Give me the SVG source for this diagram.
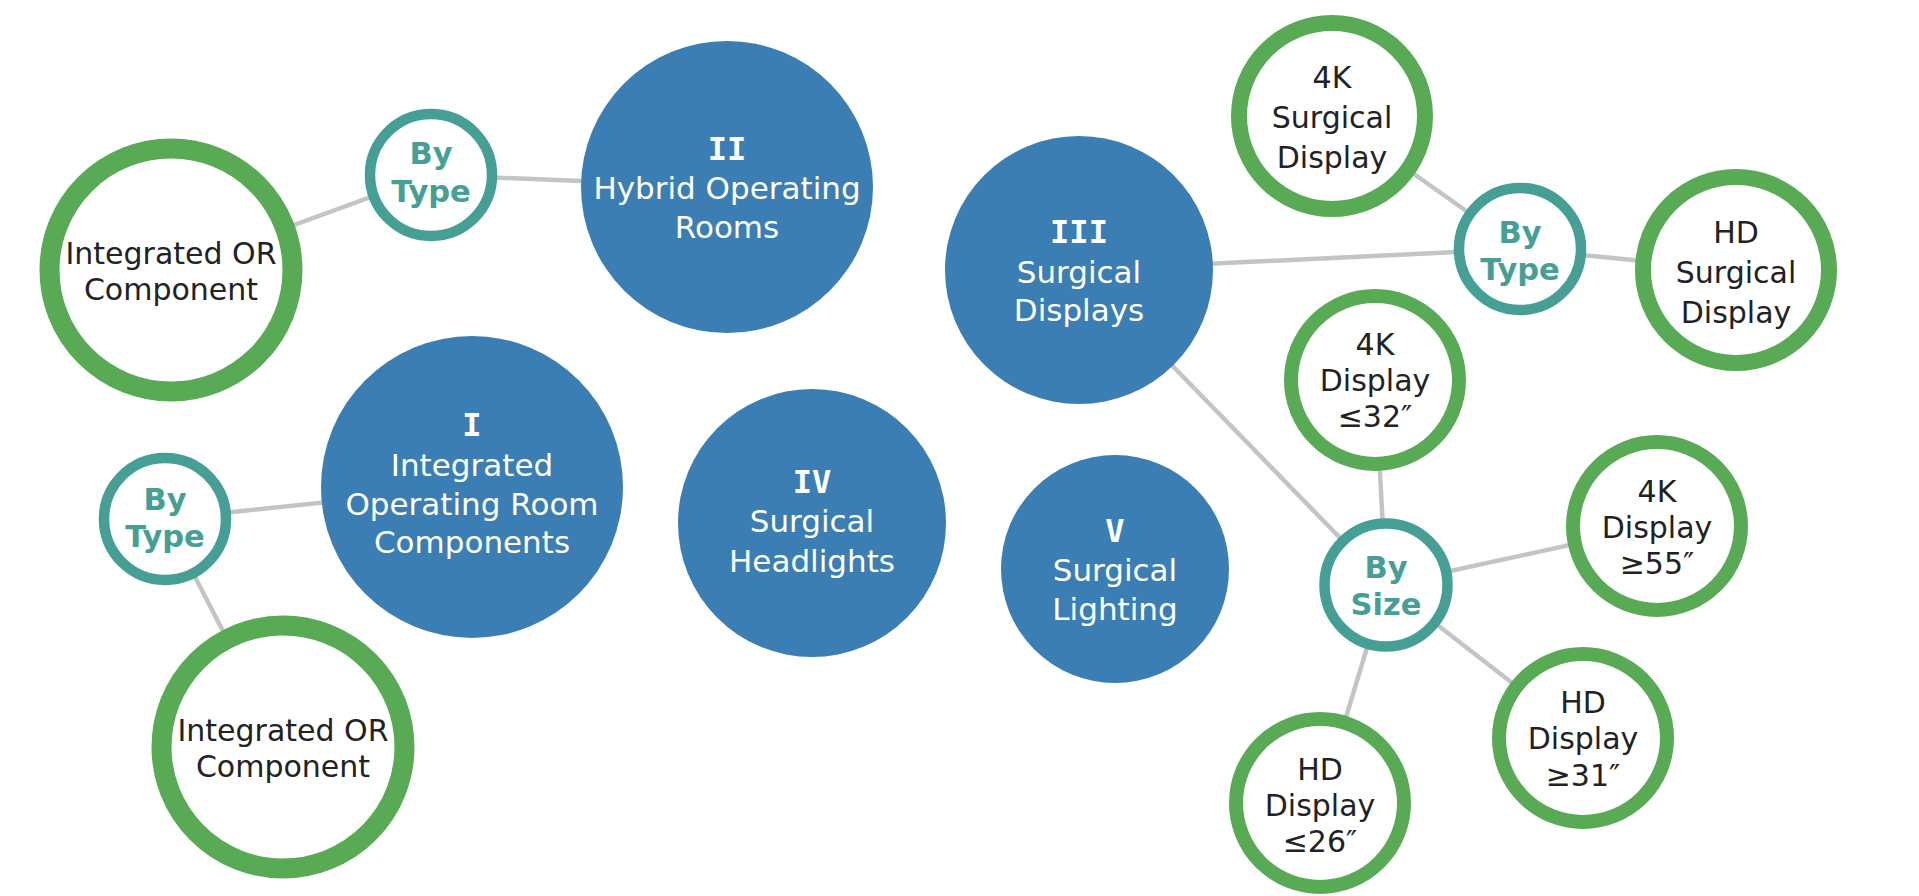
<svg xmlns="http://www.w3.org/2000/svg" width="1919" height="896" viewBox="0 0 1919 896">
<style>
.bg{fill:#ffffff}
.edge{stroke:#c4c4c4;stroke-width:4.5;fill:none}
.blue{fill:#3a7eb4}
.green{fill:#ffffff;stroke:#58aa54}
.by{fill:#ffffff;stroke:#469f95;stroke-width:10.5}
.tb{font-family:"DejaVu Sans","Verdana",sans-serif;font-size:31px;fill:#ffffff;text-anchor:middle}
.num{font-family:"DejaVu Sans Mono",monospace;font-weight:bold;font-size:32px;fill:#ffffff;text-anchor:middle}
.tg{font-family:"DejaVu Sans","Verdana",sans-serif;font-size:30px;fill:#222222;text-anchor:middle}
.tby{font-family:"DejaVu Sans","Verdana",sans-serif;font-weight:bold;font-size:30.5px;fill:#469f95;text-anchor:middle}
</style>
<rect class="bg" x="0" y="0" width="1919" height="896"/>
<g id="connectors">
<line class="edge" x1="431" y1="175" x2="727" y2="187"/>
<line class="edge" x1="431" y1="175" x2="171" y2="270"/>
<line class="edge" x1="165" y1="519" x2="472" y2="487"/>
<line class="edge" x1="165" y1="519" x2="283" y2="747"/>
<line class="edge" x1="1079" y1="270" x2="1520" y2="249"/>
<line class="edge" x1="1520" y1="249" x2="1332" y2="116"/>
<line class="edge" x1="1520" y1="249" x2="1736" y2="270"/>
<line class="edge" x1="1079" y1="270" x2="1386" y2="585"/>
<line class="edge" x1="1386" y1="585" x2="1375" y2="380"/>
<line class="edge" x1="1386" y1="585" x2="1657" y2="526"/>
<line class="edge" x1="1386" y1="585" x2="1583" y2="738"/>
<line class="edge" x1="1386" y1="585" x2="1320" y2="803"/>
</g>
<g id="node-II">
<circle class="blue" cx="727" cy="187" r="146"/>
<text class="num" x="727" y="160">II</text>
<text class="tb" x="727" y="199">Hybrid Operating</text>
<text class="tb" x="727" y="238">Rooms</text>
</g>
<g id="node-bytype-II">
<circle class="by" cx="431" cy="175" r="61"/>
<text class="tby" x="431" y="164">By</text>
<text class="tby" x="431" y="202">Type</text>
</g>
<g id="node-ior-1">
<circle class="green" cx="171" cy="270" r="121.5" stroke-width="20"/>
<text class="tg" x="171" y="264">Integrated OR</text>
<text class="tg" x="171" y="300">Component</text>
</g>
<g id="node-I">
<circle class="blue" cx="472" cy="487" r="151"/>
<text class="num" x="472" y="436">I</text>
<text class="tb" x="472" y="476">Integrated</text>
<text class="tb" x="472" y="515">Operating Room</text>
<text class="tb" x="472" y="553">Components</text>
</g>
<g id="node-bytype-I">
<circle class="by" cx="165" cy="519" r="61"/>
<text class="tby" x="165" y="510">By</text>
<text class="tby" x="165" y="547">Type</text>
</g>
<g id="node-ior-2">
<circle class="green" cx="283" cy="747" r="121.5" stroke-width="20"/>
<text class="tg" x="283" y="741">Integrated OR</text>
<text class="tg" x="283" y="777">Component</text>
</g>
<g id="node-IV">
<circle class="blue" cx="812" cy="523" r="134"/>
<text class="num" x="812" y="493">IV</text>
<text class="tb" x="812" y="532">Surgical</text>
<text class="tb" x="812" y="572">Headlights</text>
</g>
<g id="node-V">
<circle class="blue" cx="1115" cy="569" r="114"/>
<text class="num" x="1115" y="542">V</text>
<text class="tb" x="1115" y="581">Surgical</text>
<text class="tb" x="1115" y="620">Lighting</text>
</g>
<g id="node-III">
<circle class="blue" cx="1079" cy="270" r="134"/>
<text class="num" x="1079" y="243">III</text>
<text class="tb" x="1079" y="283">Surgical</text>
<text class="tb" x="1079" y="321">Displays</text>
</g>
<g id="node-bytype-III">
<circle class="by" cx="1520" cy="249" r="61"/>
<text class="tby" x="1520" y="243">By</text>
<text class="tby" x="1520" y="280">Type</text>
</g>
<g id="node-4k-surgical">
<circle class="green" cx="1332" cy="116" r="93" stroke-width="16"/>
<text class="tg" x="1332" y="88">4K</text>
<text class="tg" x="1332" y="128">Surgical</text>
<text class="tg" x="1332" y="168">Display</text>
</g>
<g id="node-hd-surgical">
<circle class="green" cx="1736" cy="270" r="93" stroke-width="16"/>
<text class="tg" x="1736" y="243">HD</text>
<text class="tg" x="1736" y="283">Surgical</text>
<text class="tg" x="1736" y="323">Display</text>
</g>
<g id="node-bysize">
<circle class="by" cx="1386" cy="585" r="61.5"/>
<text class="tby" x="1386" y="578">By</text>
<text class="tby" x="1386" y="615">Size</text>
</g>
<g id="node-4k-32">
<circle class="green" cx="1375" cy="380" r="84" stroke-width="14"/>
<text class="tg" x="1375" y="355">4K</text>
<text class="tg" x="1375" y="391">Display</text>
<text class="tg" x="1375" y="427">≤32″</text>
</g>
<g id="node-4k-55">
<circle class="green" cx="1657" cy="526" r="84" stroke-width="14"/>
<text class="tg" x="1657" y="502">4K</text>
<text class="tg" x="1657" y="538">Display</text>
<text class="tg" x="1657" y="574">≥55″</text>
</g>
<g id="node-hd-31">
<circle class="green" cx="1583" cy="738" r="84" stroke-width="14"/>
<text class="tg" x="1583" y="713">HD</text>
<text class="tg" x="1583" y="749">Display</text>
<text class="tg" x="1583" y="786">≥31″</text>
</g>
<g id="node-hd-26">
<circle class="green" cx="1320" cy="803" r="84" stroke-width="14"/>
<text class="tg" x="1320" y="780">HD</text>
<text class="tg" x="1320" y="816">Display</text>
<text class="tg" x="1320" y="852">≤26″</text>
</g>
</svg>
